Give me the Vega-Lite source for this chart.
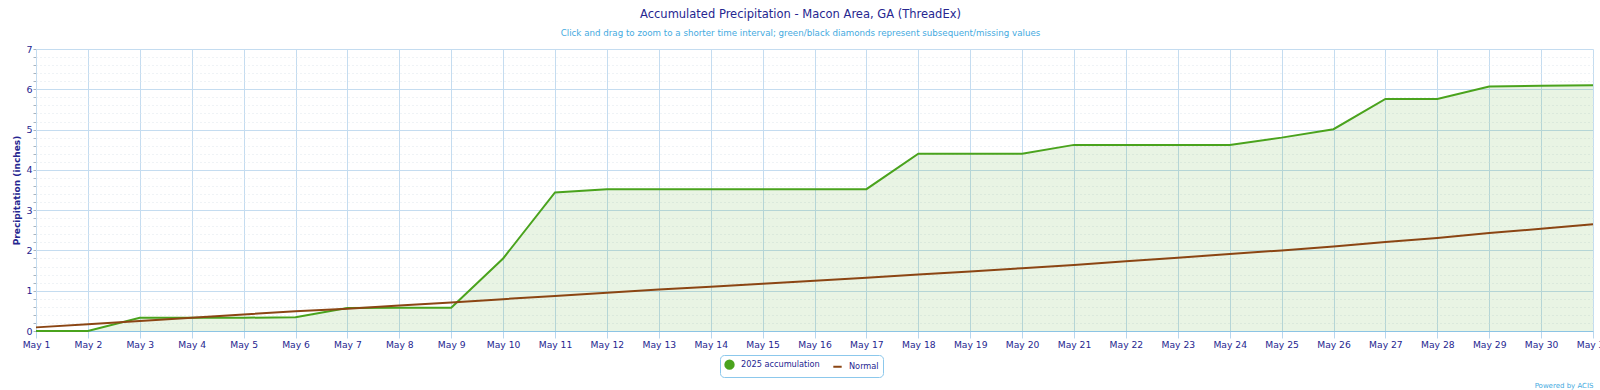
{
  "$schema": "https://vega.github.io/schema/vega-lite/v6.json",
  "width": 1557,
  "height": 282,
  "autosize": {"type": "none"},
  "padding": {"left": 36, "top": 49, "right": 7, "bottom": 59},
  "background": "white",
  "config": {
    "view": {"stroke": null},
    "font": "DejaVu Sans"
  },
  "title": {
    "text": "Accumulated Precipitation - Macon Area, GA (ThreadEx)",
    "subtitle": "Click and drag to zoom to a shorter time interval; green/black diamonds represent subsequent/missing values",
    "anchor": "middle",
    "dx": -14,
    "font": "DejaVu Sans",
    "fontSize": 11.5,
    "fontWeight": "normal",
    "color": "#262690",
    "subtitleFont": "DejaVu Sans",
    "subtitleFontSize": 8.7,
    "subtitleColor": "#44aae0",
    "subtitlePadding": 9,
    "offset": 6
  },
  "data": {
    "values": [
      {"day": 1, "series": "2025 accumulation", "value": 0},
      {"day": 2, "series": "2025 accumulation", "value": 0},
      {"day": 3, "series": "2025 accumulation", "value": 0.33},
      {"day": 4, "series": "2025 accumulation", "value": 0.33},
      {"day": 5, "series": "2025 accumulation", "value": 0.33},
      {"day": 6, "series": "2025 accumulation", "value": 0.34},
      {"day": 7, "series": "2025 accumulation", "value": 0.57},
      {"day": 8, "series": "2025 accumulation", "value": 0.58},
      {"day": 9, "series": "2025 accumulation", "value": 0.58},
      {"day": 10, "series": "2025 accumulation", "value": 1.8},
      {"day": 11, "series": "2025 accumulation", "value": 3.44},
      {"day": 12, "series": "2025 accumulation", "value": 3.52},
      {"day": 13, "series": "2025 accumulation", "value": 3.52},
      {"day": 14, "series": "2025 accumulation", "value": 3.52},
      {"day": 15, "series": "2025 accumulation", "value": 3.52},
      {"day": 16, "series": "2025 accumulation", "value": 3.52},
      {"day": 17, "series": "2025 accumulation", "value": 3.52},
      {"day": 18, "series": "2025 accumulation", "value": 4.4},
      {"day": 19, "series": "2025 accumulation", "value": 4.4},
      {"day": 20, "series": "2025 accumulation", "value": 4.4},
      {"day": 21, "series": "2025 accumulation", "value": 4.62},
      {"day": 22, "series": "2025 accumulation", "value": 4.62},
      {"day": 23, "series": "2025 accumulation", "value": 4.62},
      {"day": 24, "series": "2025 accumulation", "value": 4.62},
      {"day": 25, "series": "2025 accumulation", "value": 4.8},
      {"day": 26, "series": "2025 accumulation", "value": 5.01},
      {"day": 27, "series": "2025 accumulation", "value": 5.76},
      {"day": 28, "series": "2025 accumulation", "value": 5.76},
      {"day": 29, "series": "2025 accumulation", "value": 6.07},
      {"day": 30, "series": "2025 accumulation", "value": 6.09},
      {"day": 31, "series": "2025 accumulation", "value": 6.1},
      {"day": 1, "series": "Normal", "value": 0.09},
      {"day": 2, "series": "Normal", "value": 0.17},
      {"day": 3, "series": "Normal", "value": 0.25},
      {"day": 4, "series": "Normal", "value": 0.33},
      {"day": 5, "series": "Normal", "value": 0.41},
      {"day": 6, "series": "Normal", "value": 0.49},
      {"day": 7, "series": "Normal", "value": 0.55},
      {"day": 8, "series": "Normal", "value": 0.63},
      {"day": 9, "series": "Normal", "value": 0.71},
      {"day": 10, "series": "Normal", "value": 0.79},
      {"day": 11, "series": "Normal", "value": 0.87},
      {"day": 12, "series": "Normal", "value": 0.95},
      {"day": 13, "series": "Normal", "value": 1.03},
      {"day": 14, "series": "Normal", "value": 1.1},
      {"day": 15, "series": "Normal", "value": 1.17},
      {"day": 16, "series": "Normal", "value": 1.25},
      {"day": 17, "series": "Normal", "value": 1.32},
      {"day": 18, "series": "Normal", "value": 1.4},
      {"day": 19, "series": "Normal", "value": 1.48},
      {"day": 20, "series": "Normal", "value": 1.56},
      {"day": 21, "series": "Normal", "value": 1.64},
      {"day": 22, "series": "Normal", "value": 1.73},
      {"day": 23, "series": "Normal", "value": 1.82},
      {"day": 24, "series": "Normal", "value": 1.91},
      {"day": 25, "series": "Normal", "value": 2.0},
      {"day": 26, "series": "Normal", "value": 2.1},
      {"day": 27, "series": "Normal", "value": 2.21},
      {"day": 28, "series": "Normal", "value": 2.31},
      {"day": 29, "series": "Normal", "value": 2.43},
      {"day": 30, "series": "Normal", "value": 2.54},
      {"day": 31, "series": "Normal", "value": 2.65}
    ]
  },
  "encoding": {
    "x": {
      "field": "day",
      "type": "quantitative",
      "scale": {"domain": [1, 31], "nice": false, "zero": false},
      "axis": {
        "values": [1,2,3,4,5,6,7,8,9,10,11,12,13,14,15,16,17,18,19,20,21,22,23,24,25,26,27,28,29,30,31],
        "labelExpr": "'May ' + datum.value",
        "labelFont": "DejaVu Sans",
        "labelFontSize": 9.2,
        "labelColor": "#262690",
        "labelFlush": false,
        "labelOverlap": false,
        "labelPadding": 2,
        "labelBaseline": "top",
        "tickSize": 7,
        "tickColor": "#b9d6ee",
        "domainColor": "#8cc4e4",
        "domainWidth": 1,
        "grid": true,
        "gridColor": "#c4dcf0",
        "gridWidth": 1,
        "title": "Powered by ACIS",
        "titleAnchor": "end",
        "titleAlign": "right",
        "titleFont": "DejaVu Sans",
        "titleFontSize": 7,
        "titleFontWeight": "normal",
        "titleColor": "#44aae0",
        "titleBaseline": "alphabetic",
        "titleY": 56
      }
    },
    "y": {
      "field": "value",
      "type": "quantitative",
      "scale": {"domain": [0, 7], "nice": false},
      "axis": {
        "values": [0,0.2,0.4,0.6,0.8,1,1.2,1.4,1.6,1.8,2,2.2,2.4,2.6,2.8,3,3.2,3.4,3.6,3.8,4,4.2,4.4,4.6,4.8,5,5.2,5.4,5.6,5.8,6,6.2,6.4,6.6,6.8,7],
        "labelExpr": "datum.value % 1 === 0 ? datum.value : ''",
        "labelFont": "DejaVu Sans",
        "labelFontSize": 9.5,
        "labelColor": "#262690",
        "labelPadding": 1,
        "tickSize": 3,
        "tickColor": "#a8b4c0",
        "domain": true,
        "domainColor": "#c4dcf0",
        "grid": true,
        "gridColor": {"condition": {"test": "datum.value % 1 === 0", "value": "#c4dcf0"}, "value": "#dfe6ec"},
        "gridDash": {"condition": {"test": "datum.value % 1 === 0", "value": []}, "value": [1, 3]},
        "title": "Precipitation (inches)",
        "titleFont": "DejaVu Sans",
        "titleFontSize": 9,
        "titleFontWeight": "bold",
        "titleColor": "#262690",
        "titlePadding": 4
      }
    }
  },
  "layer": [
    {
      "transform": [{"filter": "datum.series === '2025 accumulation'"}],
      "mark": {"type": "area", "color": "#4ca21f", "opacity": 0.12}
    },
    {
      "mark": {"type": "line", "strokeWidth": 2},
      "encoding": {
        "color": {
          "field": "series",
          "type": "nominal",
          "scale": {"domain": ["2025 accumulation", "Normal"], "range": ["#4aa31d", "#8b4513"]},
          "legend": {
            "title": null,
            "orient": "none",
            "direction": "horizontal",
            "legendX": 684,
            "legendY": 306,
            "labelFont": "DejaVu Sans",
            "labelFontSize": 8.2,
            "labelColor": "#262690",
            "labelOffset": 6,
            "columnPadding": 9,
            "symbolSize": 70,
            "padding": 4,
            "strokeColor": "#8cc8ec",
            "cornerRadius": 4,
            "encode": {
              "symbols": {
                "update": {
                  "shape": {"signal": "datum.label === 'Normal' ? 'stroke' : 'circle'"},
                  "fill": {"signal": "datum.label === 'Normal' ? 'transparent' : '#4aa31d'"},
                  "stroke": {"signal": "datum.label === 'Normal' ? '#8b4513' : '#4aa31d'"},
                  "strokeWidth": {"value": 2}
                }
              }
            }
          }
        }
      }
    }
  ]
}
